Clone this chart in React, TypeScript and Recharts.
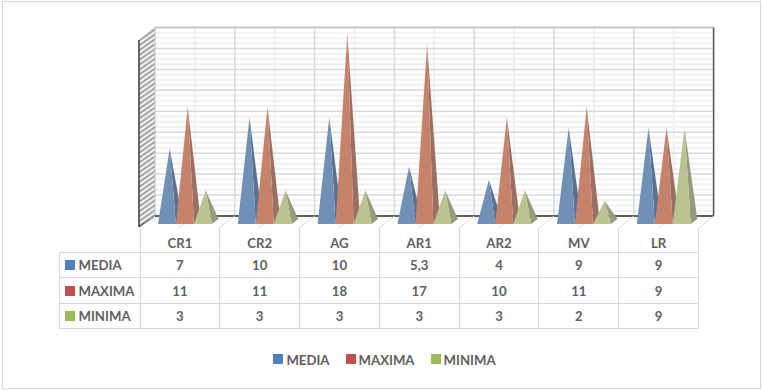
import { Bar, BarChart, CartesianGrid, Legend, XAxis, YAxis } from "recharts";

const categories = ["CR1", "CR2", "AG", "AR1", "AR2", "MV", "LR"];
const media = [7, 10, 10, 5.3, 4, 9, 9];
const maxima = [11, 11, 18, 17, 10, 11, 9];
const minima = [3, 3, 3, 3, 3, 2, 9];
const majorTicks = [0, 2, 4, 6, 8, 10, 12, 14, 16, 18];
const minorTicks = [
  0.5, 1, 1.5, 2.5, 3, 3.5, 4.5, 5, 5.5, 6.5, 7, 7.5, 8.5, 9, 9.5, 10.5, 11, 11.5, 12.5, 13, 13.5, 14.5, 15, 15.5,
  16.5, 17, 17.5,
];

const tableLabel = (v: number) => String(v).replace(".", ",");

const seriesList = [
  { key: "MEDIA", values: media, swatch: "#4F81BD", front: "#7190B6", side: "#5B7191" },
  { key: "MAXIMA", values: maxima, swatch: "#C0504D", front: "#C6836B", side: "#997062" },
  { key: "MINIMA", values: minima, swatch: "#9BBB59", front: "#BAC492", side: "#959C7A" },
];

const rows = categories.map((name, i) => ({
  name,
  MEDIA: media[i],
  MAXIMA: maxima[i],
  MINIMA: minima[i],
}));

const WIDTH = 762;
const HEIGHT = 390;
const wall = { left: 155, right: 713.6, top: 27.5, bottom: 216 };
const FONT = "Lato, 'Open Sans', sans-serif";
const FONT_SIZE = 13.2;
const TEXT = "#5F5F5F";
const LINE = "#D9D9D9";

const gridY = (v: number) => wall.bottom - (v / 18) * (wall.bottom - wall.top);

// pyramids sit on the front of the floor, the plot area is the back wall
const pyramid = (front: string, side: string) => (props: any) => {
  const { x, y, width, height } = props;
  const left = x - 10;
  const base = y + height + 8;
  const tip = y + 6;
  const apex = left + width * 0.65;
  const right = left + width;
  return (
    <g>
      <polygon points={`${apex},${tip} ${right},${base} ${right + 6.5},${base - 5}`} fill={side} />
      <polygon points={`${left},${base} ${right},${base} ${apex},${tip}`} fill={front} />
    </g>
  );
};

const floorLines = Array.from({ length: 15 }, (_, i) => i);

function LegendRow() {
  return (
    <div
      style={{
        display: "flex",
        justifyContent: "center",
        fontFamily: FONT,
        fontSize: FONT_SIZE,
        fontWeight: 700,
        color: TEXT,
        paddingLeft: 7,
      }}
    >
      {seriesList.map((s) => (
        <span key={s.key} style={{ display: "flex", alignItems: "center", margin: "0 8px" }}>
          <span style={{ width: 10, height: 10, background: s.swatch, marginRight: 3, marginTop: -2 }} />
          {s.key}
        </span>
      ))}
    </div>
  );
}

function DataTable() {
  const cell = {
    border: `1px solid ${LINE}`,
    padding: "1px 0 0",
    textAlign: "center" as const,
    fontWeight: 700,
  };
  return (
    <table
      style={{
        position: "absolute",
        left: 59,
        top: 228,
        width: 640,
        tableLayout: "fixed",
        borderCollapse: "collapse",
        fontFamily: FONT,
        fontSize: FONT_SIZE,
        color: TEXT,
      }}
    >
      <tbody>
        <tr style={{ height: 24 }}>
          <td style={{ width: 80, padding: 0, borderBottom: `1px solid ${LINE}`, borderRight: `1px solid ${LINE}` }} />
          {categories.map((c) => (
            <td key={c} style={{ ...cell, borderTop: "none", paddingTop: 6 }}>
              {c}
            </td>
          ))}
        </tr>
        {seriesList.map((s) => (
          <tr key={s.key} style={{ height: 25.5 }}>
            <td style={{ ...cell, textAlign: "left", whiteSpace: "nowrap" }}>
              <span
                style={{
                  display: "inline-block",
                  width: 10,
                  height: 10,
                  background: s.swatch,
                  margin: "0 3.5px 0 5px",
                }}
              />
              {s.key}
            </td>
            {s.values.map((v, i) => (
              <td key={categories[i]} style={cell}>
                {tableLabel(v)}
              </td>
            ))}
          </tr>
        ))}
      </tbody>
    </table>
  );
}

export default function App() {
  const bandWidth = (wall.right - wall.left) / categories.length;
  return (
    <div
      style={{
        position: "absolute",
        left: 0,
        top: 0,
        width: WIDTH,
        height: HEIGHT,
        background: "#fff",
        overflow: "hidden",
      }}
    >
      <div
        style={{
          position: "absolute",
          left: 2,
          top: 1,
          width: 757,
          height: 386,
          border: `1px solid ${LINE}`,
        }}
      />
      <BarChart
        width={WIDTH}
        height={HEIGHT}
        data={rows}
        barSize={18}
        barGap={0}
        margin={{ left: wall.left, right: WIDTH - wall.right, top: wall.top, bottom: HEIGHT - wall.bottom }}
        style={{ position: "absolute", left: 0, top: 0 }}
      >
        <defs>
          <pattern id="hatch" width="4" height="4" patternUnits="userSpaceOnUse" patternTransform="rotate(-35)">
            <rect width="4" height="4" fill="#F2F2F2" />
            <rect width="4" height="2" fill="#A6A6A6" />
          </pattern>
        </defs>
        <XAxis dataKey="name" hide />
        <YAxis hide domain={[0, 18]} ticks={majorTicks} />
        <CartesianGrid vertical={false} horizontalPoints={minorTicks.map(gridY)} stroke="#F1F1F1" strokeWidth={2} />
        <CartesianGrid
          horizontal={false}
          verticalPoints={floorLines
            .filter((i) => i % 2 === 1)
            .map((i) => wall.left + (bandWidth * i) / 2)}
          stroke="#F0F0F0"
          strokeWidth={2}
        />
        <CartesianGrid
          horizontal={false}
          verticalPoints={floorLines
            .filter((i) => i % 2 === 0 && i > 0 && i < 14)
            .map((i) => wall.left + (bandWidth * i) / 2)}
          stroke={LINE}
          strokeWidth={1.5}
        />
        <CartesianGrid vertical={false} horizontalPoints={majorTicks.map(gridY)} stroke={LINE} strokeWidth={1.5} />
        <polygon
          points={`139,40 ${wall.left},${wall.top} ${wall.left},${wall.bottom} 139,227`}
          fill="url(#hatch)"
          stroke="#BFBFBF"
          strokeWidth={1}
        />
        <line x1={wall.left} y1={wall.top} x2={wall.right} y2={wall.top} stroke="#BFBFBF" strokeWidth={1.5} />
        <line x1={139} y1={40} x2={139} y2={227} stroke="#404040" strokeWidth={1.5} />
        <line x1={139} y1={227} x2={wall.left} y2={wall.bottom} stroke="#404040" strokeWidth={1.5} />
        <line x1={wall.left} y1={wall.bottom} x2={wall.right} y2={wall.bottom} stroke="#333" strokeWidth={1.5} />
        <line x1={wall.right} y1={wall.top} x2={wall.right} y2={wall.bottom} stroke="#505050" strokeWidth={1.5} />
        {floorLines.map((i) => (
          <line
            key={i}
            x1={139 + 40 * i}
            y1={228}
            x2={wall.left + (bandWidth * i) / 2}
            y2={wall.bottom}
            stroke={LINE}
            strokeWidth={1}
          />
        ))}
        {seriesList.map((s) => (
          <Bar
            key={s.key}
            dataKey={s.key}
            isAnimationActive={false}
            fill={s.front}
            shape={pyramid(s.front, s.side)}
          />
        ))}
        <Legend
          layout="horizontal"
          verticalAlign="middle"
          align="center"
          wrapperStyle={{ position: "absolute", left: 0, top: 352, width: WIDTH }}
          content={() => <LegendRow />}
        />
      </BarChart>
      <DataTable />
    </div>
  );
}
